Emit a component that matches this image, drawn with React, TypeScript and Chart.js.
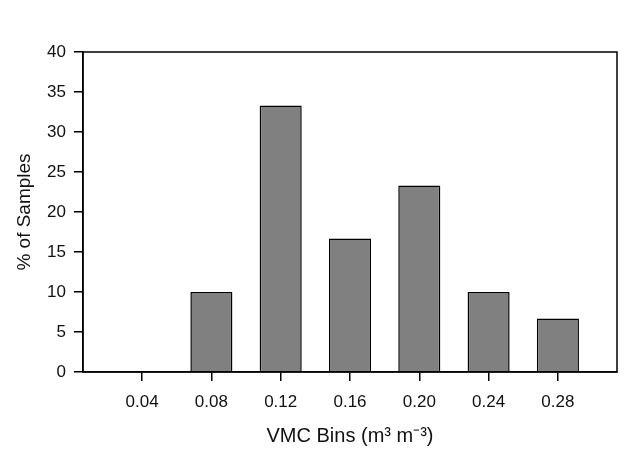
import React, { useEffect, useRef } from "react";
import { Chart, registerables } from "chart.js";

Chart.register(...registerables);

const bins = [0.04, 0.08, 0.12, 0.16, 0.2, 0.24, 0.28];
const percents = [0, 10, 33.3, 16.7, 23.3, 10, 6.7];
const yTicks = [0, 5, 10, 15, 20, 25, 30, 35, 40];

const FONT = "'Liberation Sans', Arial, sans-serif";

const frame = {
  id: "frame",
  afterDatasetsDraw(chart: any) {
    const { ctx, chartArea: a } = chart;
    ctx.save();
    ctx.strokeStyle = "#000";
    ctx.lineWidth = 1.5;
    ctx.strokeRect(a.left, a.top, a.right - a.left, a.bottom - a.top);
    ctx.restore();
  },
};

export default function App() {
  const ref = useRef<HTMLCanvasElement>(null);
  useEffect(() => {
    const chart = new Chart(ref.current!, {
      type: "bar",
      data: {
        datasets: [
          {
            data: bins.map((b, i) => ({ x: b, y: percents[i] })),
            backgroundColor: "#808080",
            borderColor: "#000",
            borderWidth: 1.5,
            barPercentage: 0.607,
            categoryPercentage: 1,
          },
        ],
      },
      options: {
        animation: false,
        responsive: false,
        layout: { padding: { top: 52, right: 15, left: 0, bottom: 0 } },
        plugins: { legend: { display: false }, tooltip: { enabled: false } },
        scales: {
          x: {
            type: "linear",
            offset: false,
            min: 0.0059,
            max: 0.3141,
            afterBuildTicks: (s: any) => {
              s.ticks = bins.map((v) => ({ value: v }));
            },
            afterFit: (s: any) => {
              s.height = 78;
            },
            grid: { offset: false, drawOnChartArea: false, drawTicks: true, tickLength: 9, color: "#000", lineWidth: 1.5 },
            border: { display: true, color: "#000", width: 1.5 },
            ticks: {
              color: "#111",
              font: { family: FONT, size: 17 },
              padding: 11,
              maxRotation: 0,
              autoSkip: false,
              callback: (v: any) => Number(v).toFixed(2),
            },
            title: {
              display: true,
              text: "VMC Bins (m³ m⁻³)",
              color: "#111",
              font: { family: FONT, size: 20 },
              padding: { top: 0, bottom: 2 },
            },
          },
          y: {
            min: 0,
            max: 40,
            afterBuildTicks: (s: any) => {
              s.ticks = yTicks.map((v) => ({ value: v }));
            },
            afterFit: (s: any) => {
              s.width = 83;
            },
            grid: { drawOnChartArea: false, drawTicks: true, tickLength: 9, color: "#000", lineWidth: 1.5 },
            border: { display: true, color: "#000", width: 1.5 },
            ticks: {
              color: "#111",
              font: { family: FONT, size: 17 },
              padding: 8,
            },
            title: {
              display: true,
              text: "% of Samples",
              color: "#111",
              font: { family: FONT, size: 19 },
              padding: { top: 13, bottom: 0 },
            },
          },
        },
      },
      plugins: [frame],
    });
    return () => chart.destroy();
  }, []);
  return (
    <div style={{ position: "fixed", left: 0, top: 0, width: 632, height: 450, background: "#fff" }}>
      <canvas ref={ref} width={632} height={450} style={{ display: "block" }} />
    </div>
  );
}
